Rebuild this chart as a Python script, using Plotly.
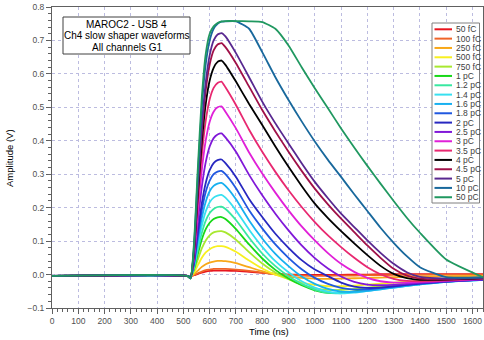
import plotly.graph_objects as go

# Time knots (ns)
times = [0, 515, 527, 540, 555, 570, 585, 600, 615, 630, 645, 660, 700, 750, 800,
         850, 900, 950, 1000, 1050, 1100, 1150, 1200, 1250, 1300, 1350, 1400, 1500, 1640]

labels = ["50 fC", "100 fC", "250 fC", "500 fC", "750 fC", "1 pC", "1.2 pC", "1.4 pC",
          "1.6 pC", "1.8 pC", "2 pC", "2.5 pC", "3 pC", "3.5 pC", "4 pC", "4.5 pC",
          "5 pC", "10 pC", "50 pC"]

colors = ["#e8141e", "#f06428", "#f8a818", "#f8f020", "#a8e830", "#18d818", "#38e8a0",
          "#38e0f0", "#18b0f0", "#2058e0", "#2828c0", "#8018d8", "#e020d8", "#e82870",
          "#000000", "#a01048", "#582890", "#18689c", "#209860"]

v50f = [-0.004,-0.004,-0.005,-0.002,0.002,0.006,0.009,0.011,0.012,0.012,0.012,0.012,0.011,0.008,0.005,0.002,0.000,-0.001,-0.001,-0.001,-0.001,0.000,0.000,0.001,0.001,0.001,0.001,0.001,0.001]
v100f = [-0.004,-0.004,-0.005,-0.001,0.004,0.009,0.013,0.015,0.017,0.017,0.017,0.017,0.015,0.011,0.006,0.002,-0.001,-0.003,-0.004,-0.004,-0.003,-0.003,-0.002,-0.002,-0.001,-0.001,-0.001,0.000,0.000]
v250f = [-0.004,-0.004,-0.005,0.001,0.012,0.023,0.031,0.036,0.039,0.041,0.041,0.040,0.034,0.022,0.010,0.000,-0.006,-0.010,-0.012,-0.013,-0.012,-0.011,-0.010,-0.009,-0.008,-0.007,-0.006,-0.005,-0.004]
v500f = [-0.004,-0.004,-0.006,0.006,0.028,0.050,0.066,0.076,0.082,0.085,0.085,0.083,0.068,0.042,0.018,0.000,-0.013,-0.024,-0.031,-0.035,-0.035,-0.033,-0.030,-0.027,-0.024,-0.021,-0.018,-0.014,-0.010]
v750f = [-0.004,-0.004,-0.006,0.011,0.045,0.078,0.102,0.117,0.126,0.129,0.130,0.126,0.104,0.067,0.033,0.006,-0.014,-0.030,-0.041,-0.046,-0.046,-0.043,-0.039,-0.035,-0.031,-0.027,-0.024,-0.019,-0.014]
v1p = [-0.004,-0.004,-0.007,0.016,0.062,0.105,0.136,0.155,0.166,0.171,0.172,0.166,0.136,0.090,0.048,0.014,-0.012,-0.032,-0.047,-0.055,-0.054,-0.050,-0.045,-0.040,-0.035,-0.030,-0.026,-0.020,-0.015]
v1p2 = [-0.004,-0.004,-0.007,0.019,0.074,0.124,0.161,0.184,0.196,0.202,0.203,0.196,0.163,0.110,0.063,0.025,-0.005,-0.028,-0.045,-0.055,-0.056,-0.052,-0.047,-0.042,-0.037,-0.032,-0.028,-0.021,-0.016]
v1p4 = [-0.004,-0.004,-0.007,0.023,0.088,0.146,0.189,0.216,0.230,0.236,0.238,0.230,0.192,0.134,0.083,0.040,0.007,-0.020,-0.039,-0.051,-0.056,-0.054,-0.049,-0.044,-0.039,-0.034,-0.029,-0.022,-0.016]
v1p6 = [-0.004,-0.004,-0.008,0.027,0.102,0.169,0.218,0.249,0.265,0.272,0.274,0.265,0.225,0.162,0.108,0.062,0.025,-0.006,-0.028,-0.043,-0.051,-0.052,-0.049,-0.044,-0.039,-0.034,-0.029,-0.022,-0.016]
v1p8 = [-0.004,-0.004,-0.008,0.031,0.116,0.192,0.247,0.281,0.300,0.308,0.310,0.300,0.258,0.192,0.138,0.090,0.050,0.016,-0.010,-0.028,-0.040,-0.045,-0.044,-0.040,-0.036,-0.031,-0.027,-0.021,-0.015]
v2p = [-0.004,-0.004,-0.008,0.034,0.129,0.213,0.274,0.312,0.333,0.342,0.344,0.333,0.292,0.226,0.172,0.122,0.080,0.043,0.015,-0.005,-0.024,-0.036,-0.040,-0.039,-0.035,-0.031,-0.027,-0.021,-0.015]
v2p5 = [-0.004,-0.004,-0.009,0.042,0.158,0.262,0.336,0.383,0.408,0.419,0.422,0.410,0.367,0.298,0.237,0.182,0.132,0.087,0.049,0.018,-0.006,-0.022,-0.030,-0.032,-0.031,-0.028,-0.025,-0.020,-0.015]
v3p = [-0.004,-0.004,-0.009,0.050,0.189,0.312,0.401,0.457,0.487,0.500,0.503,0.487,0.437,0.365,0.302,0.245,0.192,0.144,0.102,0.064,0.032,0.008,-0.010,-0.020,-0.024,-0.024,-0.022,-0.018,-0.013]
v3p5 = [-0.004,-0.004,-0.010,0.058,0.217,0.357,0.460,0.524,0.558,0.573,0.577,0.560,0.507,0.433,0.367,0.307,0.252,0.202,0.157,0.117,0.082,0.050,0.022,0.001,-0.013,-0.019,-0.020,-0.017,-0.012]
v4p = [-0.004,-0.004,-0.010,0.064,0.240,0.395,0.510,0.580,0.618,0.636,0.640,0.627,0.577,0.510,0.447,0.383,0.322,0.265,0.212,0.169,0.130,0.093,0.058,0.026,0.002,-0.011,-0.016,-0.015,-0.011]
v4p5 = [-0.004,-0.004,-0.011,0.068,0.258,0.426,0.551,0.628,0.670,0.688,0.692,0.680,0.632,0.562,0.492,0.428,0.367,0.310,0.257,0.210,0.167,0.127,0.087,0.050,0.017,-0.003,-0.012,-0.014,-0.010]
v5p = [-0.004,-0.004,-0.011,0.072,0.270,0.445,0.575,0.656,0.700,0.718,0.722,0.712,0.662,0.590,0.517,0.452,0.392,0.333,0.277,0.228,0.182,0.142,0.102,0.065,0.032,0.007,-0.007,-0.012,-0.010]
v10p = [-0.004,-0.004,-0.012,0.080,0.300,0.500,0.630,0.700,0.735,0.750,0.756,0.757,0.757,0.735,0.665,0.590,0.522,0.458,0.398,0.343,0.292,0.240,0.190,0.140,0.095,0.055,0.022,-0.008,-0.008]
v50p = [-0.004,-0.004,-0.012,0.090,0.320,0.530,0.660,0.720,0.742,0.752,0.757,0.758,0.758,0.757,0.755,0.735,0.685,0.620,0.557,0.497,0.437,0.380,0.325,0.272,0.220,0.170,0.125,0.045,-0.008]

series = [v50f, v100f, v250f, v500f, v750f, v1p, v1p2, v1p4, v1p6, v1p8, v2p, v2p5,
          v3p, v3p5, v4p, v4p5, v5p, v10p, v50p]

title_lines = ["MAROC2 - USB 4", "Ch4 slow shaper waveforms", "All channels G1"]
x_title = "Time (ns)"
y_title = "Amplitude (V)"

W, H = 484, 340
ML, MR, MT, MB = 52, 1, 7, 32
PW, PH = W - ML - MR, H - MT - MB


def px(x):
    return (x - ML) / PW


def py(y):
    return (H - MB - y) / PH


fig = go.Figure()
for lab, col, vals in zip(labels, colors, series):
    assert len(vals) == len(times), lab
    fig.add_trace(go.Scatter(x=times, y=vals, mode="lines", name=lab,
                             line=dict(color=col, width=1.8, shape="spline", smoothing=0.5)))

axis_common = dict(showline=True, linecolor="#606060", linewidth=1, mirror=True,
                   ticks="outside", ticklen=5, tickcolor="#606060", automargin=False,
                   showgrid=True, gridcolor="#bcbce0", griddash="dot", gridwidth=1,
                   zeroline=False, tickfont=dict(size=8.5, color="#505050"))

fig.update_xaxes(range=[0, 1640], tick0=0, dtick=100,
                 minor=dict(ticks="outside", ticklen=3, dtick=20, tickcolor="#606060", showgrid=False),
                 **axis_common)
fig.update_yaxes(range=[-0.1, 0.8], tick0=0, dtick=0.1, tickformat=".1f",
                 minor=dict(ticks="outside", ticklen=3, dtick=0.02, tickcolor="#606060", showgrid=False),
                 **axis_common)

shapes = []
annotations = []
# axis titles
annotations.append(dict(xref="paper", yref="paper", x=px(269), y=py(331), text=x_title,
                        showarrow=False, xanchor="center", yanchor="middle",
                        font=dict(size=9.5, color="#000000")))
annotations.append(dict(xref="paper", yref="paper", x=px(9), y=py(158), text=y_title,
                        showarrow=False, xanchor="center", yanchor="middle", textangle=-90,
                        font=dict(size=9.5, color="#000000")))
# title box
shapes.append(dict(type="rect", xref="paper", yref="paper", x0=px(63), x1=px(190),
                   y0=py(54), y1=py(17), line=dict(color="#404040", width=1), fillcolor="white"))
for i, t in enumerate(title_lines):
    annotations.append(dict(xref="paper", yref="paper", x=px(126.5), y=py(24 + 11.8 * i),
                            text=t, showarrow=False, xanchor="center", yanchor="middle",
                            font=dict(size=10, color="#000000")))
# legend box
shapes.append(dict(type="rect", xref="paper", yref="paper", x0=px(432), x1=px(479.5),
                   y0=py(203), y1=py(23), line=dict(color="#808080", width=1), fillcolor="white"))
for i, (lab, col) in enumerate(zip(labels, colors)):
    yy = 29.3 + 9.33 * i
    shapes.append(dict(type="line", xref="paper", yref="paper", x0=px(434.5), x1=px(452),
                       y0=py(yy), y1=py(yy), line=dict(color=col, width=2)))
    annotations.append(dict(xref="paper", yref="paper", x=px(453.5), y=py(yy), text=lab,
                            showarrow=False, xanchor="left", yanchor="middle",
                            font=dict(size=8.5, color="#404040")))

fig.update_layout(width=W, height=H, margin=dict(l=ML, r=MR, t=MT, b=MB, autoexpand=False),
                  plot_bgcolor="white", paper_bgcolor="white", showlegend=False,
                  font=dict(family="Liberation Sans, Arial, sans-serif", size=10, color="#404040"),
                  shapes=shapes, annotations=annotations)

fig.write_html("out.html", config={"displayModeBar": False},
               post_script="document.body.style.margin='0';document.body.style.overflow='hidden';")
